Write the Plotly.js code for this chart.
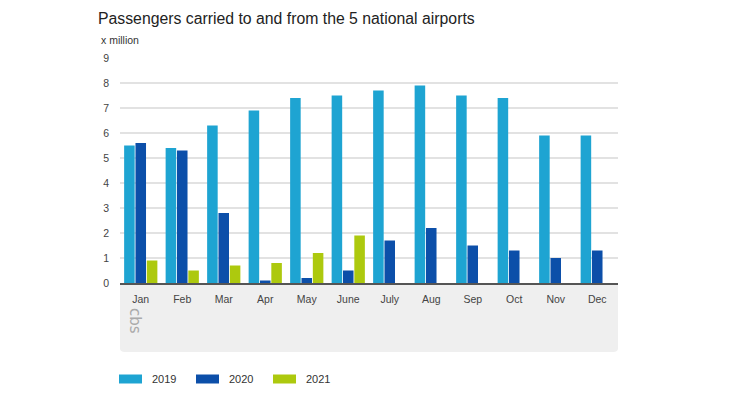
<!DOCTYPE html>
<html>
<head>
<meta charset="utf-8">
<script src="https://cdn.plot.ly/plotly-3.0.1.min.js"></script>
<style>html,body{margin:0;padding:0;background:#fff;}#chart{width:732px;height:400px;}</style>
</head>
<body>
<div id="chart"></div>
<script>
const months = ["Jan","Feb","Mar","Apr","May","June","July","Aug","Sep","Oct","Nov","Dec"];
const seriesNames = ["2019","2020","2021"];
const values2019 = [5.5,5.4,6.3,6.9,7.4,7.5,7.7,7.9,7.5,7.4,5.9,5.9];
const values2020 = [5.6,5.3,2.8,0.1,0.2,0.5,1.7,2.2,1.5,1.3,1.0,1.3];
const values2021 = [0.9,0.5,0.7,0.8,1.2,1.9,null,null,null,null,null,null];
const yTicks = [0,1,2,3,4,5,6,7,8,9];
const colors = ["#1ea4d2","#0c4fa9","#adc90e"];

const allValues = [values2019, values2020, values2021];
const traces = seriesNames.map((name, i) => ({
  type: "bar",
  name: name,
  x: months,
  y: allValues[i],
  marker: {color: colors[i], line: {width: 0}},
  showlegend: false
}));

// custom legend (wide swatches like the reference)
const legendX = [119, 196, 273];
const legendY = 379;
const shapes = [{type: "path", xref: "paper", yref: "paper", layer: "below",
  path: "M0,0 L1,0 L1,-0.29 Q1,-0.307 0.99,-0.307 L0.01,-0.307 Q0,-0.307 0,-0.29 Z",
  fillcolor: "#efefef", line: {width: 0}}];
const annotations = [
  {text: "x million", xref: "paper", yref: "paper", x: -21/498, y: 1 + 18/225, xanchor: "left", yanchor: "middle",
   showarrow: false, font: {size: 10.5, color: "#333"}},
  {text: "cbs", xref: "paper", yref: "paper", x: 15/498, y: -38/225, xanchor: "center", yanchor: "middle",
   showarrow: false, textangle: 90, font: {size: 15, color: "#aaa", family: "DejaVu Sans"}}
];
seriesNames.forEach((name, i) => {
  // convert pixel positions to paper coords of the plot area (l=120, w=498, t=58, h=225)
  const px = (v) => (v - 120) / 498;
  const py = (v) => (283 - v) / 225;
  shapes.push({type: "rect", xref: "paper", yref: "paper",
    x0: px(legendX[i]), x1: px(legendX[i] + 23), y0: py(legendY - 4.5), y1: py(legendY + 4.5),
    fillcolor: colors[i], line: {width: 0}});
  annotations.push({text: name, xref: "paper", yref: "paper", x: px(legendX[i] + 31), y: py(legendY),
    xanchor: "left", yanchor: "middle", showarrow: false, font: {size: 11, color: "#333"}});
});

const layout = {
  width: 732, height: 400,
  margin: {l: 120, r: 114, t: 58, b: 117},
  paper_bgcolor: "#fff", plot_bgcolor: "#fff",
  font: {family: "Liberation Sans, Arial, sans-serif", color: "#333", size: 10},
  title: {text: "Passengers carried to and from the 5 national airports",
          x: 98/732, xanchor: "left", y: 1 - 18/400, yanchor: "middle",
          font: {size: 15.8, color: "#222"}},
  bargap: 0.18, bargroupgap: 0.07, barmode: "group",
  xaxis: {type: "category", showgrid: false, ticks: "", tickfont: {size: 10.5, color: "#444"},
          showline: true, linecolor: "#555", linewidth: 1.5, fixedrange: true, ticklabelstandoff: 6},
  yaxis: {range: [0, 9], tickvals: yTicks, showgrid: true, gridcolor: "#e2e2e2", gridwidth: 1.5,
          zeroline: false, ticks: "", tickfont: {size: 10.5, color: "#444"}, fixedrange: true, ticklabelstandoff: 10},
  showlegend: false,
  shapes: shapes,
  annotations: annotations
};

Plotly.newPlot("chart", traces, layout, {displayModeBar: false, staticPlot: true});
</script>
</body>
</html>
